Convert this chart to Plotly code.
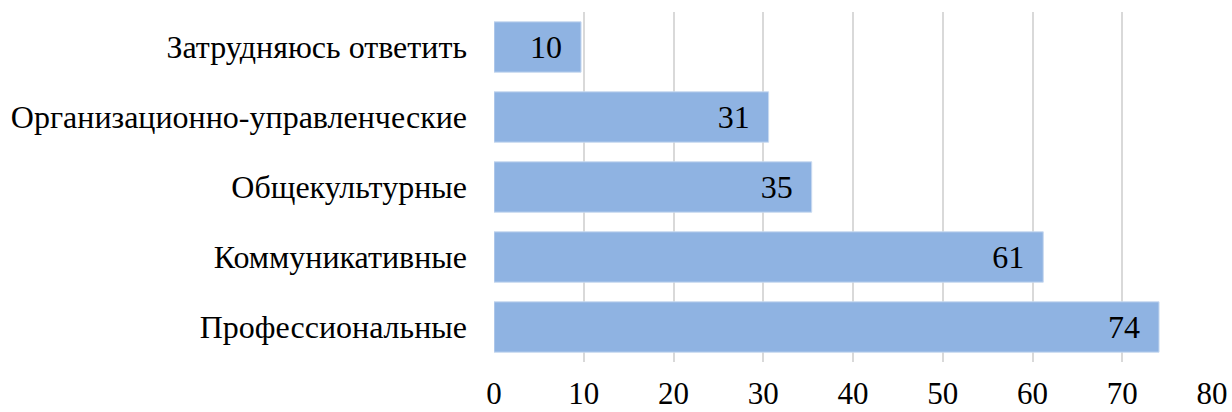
import plotly.graph_objects as go

categories = ["Профессиональные", "Коммуникативные", "Общекультурные",
              "Организационно-управленческие", "Затрудняюсь ответить"]
values = [74.1, 61.2, 35.4, 30.6, 9.7]
labels = ["74", "61", "35", "31", "10"]
x_ticks = [0, 10, 20, 30, 40, 50, 60, 70, 80]

FONT = "Liberation Serif"
FS = 32

fig = go.Figure(go.Bar(
    y=categories, x=values, orientation="h",
    text=labels, texttemplate="%{text}\u2002",
    textposition="inside", insidetextanchor="end",
    textfont=dict(family=FONT, size=FS, color="black"),
    marker=dict(color="#8FB3E2", line=dict(color="#C9DAF0", width=1)),
    cliponaxis=False,
))

fig.update_layout(
    width=1232, height=412,
    margin=dict(l=494, r=20, t=12, b=50, autoexpand=False),
    paper_bgcolor="white", plot_bgcolor="white",
    bargap=0.28,
    showlegend=False,
    font=dict(family=FONT, size=FS, color="black"),
)
fig.update_xaxes(range=[0, 80], tickvals=x_ticks, showgrid=True,
                 gridcolor="#D9D9D9", gridwidth=2, zeroline=False,
                 showline=False, ticks="", ticklabelstandoff=10,
                 automargin=False,
                 tickfont=dict(family=FONT, size=31, color="black"))
fig.update_yaxes(showgrid=False, showline=False, ticks="",
                 ticklabelstandoff=26, automargin=False,
                 tickfont=dict(family=FONT, size=FS, color="black"))

fig.write_html("out.html",
               config={"displayModeBar": False},
               post_script="document.body.style.margin='0px';"
                           "document.body.style.overflow='hidden';")
